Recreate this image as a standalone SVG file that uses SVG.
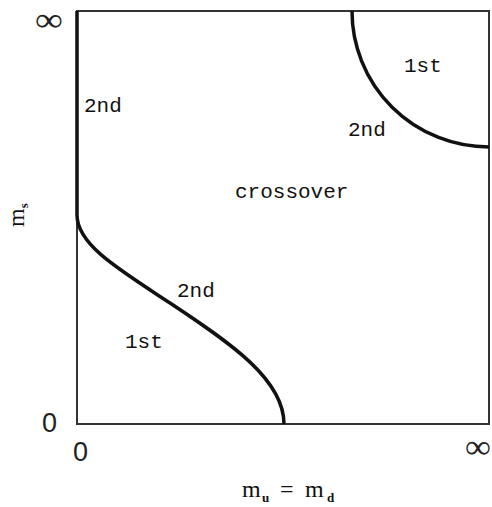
<svg xmlns="http://www.w3.org/2000/svg" width="492" height="507" viewBox="0 0 492 507">
<style>
.frame{fill:none;stroke:#333;stroke-width:2}
.curve{fill:none;stroke:#111;stroke-width:3.5;stroke-linecap:butt}
.lbl{font-family:"Liberation Mono","DejaVu Sans Mono",monospace;font-size:21px;fill:#111}
.axn{font-family:"Liberation Sans","DejaVu Sans",sans-serif;font-size:27px;fill:#222}
.inf{font-family:"Liberation Serif","DejaVu Serif",serif;font-size:34px;fill:#222}
.ax{font-family:"Liberation Serif","DejaVu Serif",serif;font-size:24px;fill:#111}
.sub{font-size:13px;font-weight:bold}
</style>
<rect width="492" height="507" fill="#fff"/>
<g id="frame">
<rect class="frame" x="77" y="11" width="412" height="413"/>
</g>
<g id="connectors">
<path class="curve" d="M77,11 L77,215 C77,245 120,270 170,303 C232,344 284,380 284,424"/>
<path class="curve" d="M352,11 A137,136 0 0 0 489,147"/>
</g>
<g id="region-labels">
<text class="lbl" x="84" y="112">2nd</text>
<text class="lbl" x="404" y="72">1st</text>
<text class="lbl" x="348" y="136">2nd</text>
<text class="lbl" x="235" y="198">crossover</text>
<text class="lbl" x="177" y="297">2nd</text>
<text class="lbl" x="125" y="348">1st</text>
</g>
<g id="axis-labels">
<text class="inf" x="35" y="31" textLength="28" lengthAdjust="spacingAndGlyphs">∞</text>
<text class="axn" x="42" y="432">0</text>
<text class="axn" x="73" y="461">0</text>
<text class="inf" x="465" y="458" textLength="26" lengthAdjust="spacingAndGlyphs">∞</text>
<text class="ax" y="497"><tspan x="242">m</tspan><tspan class="sub" x="262" y="502">u</tspan><tspan x="280" y="497">=</tspan><tspan x="305">m</tspan><tspan class="sub" x="327" y="502">d</tspan></text>
<text class="ax" transform="translate(24,227) rotate(-90)">m<tspan class="sub" dy="4">s</tspan></text>
</g>
</svg>
